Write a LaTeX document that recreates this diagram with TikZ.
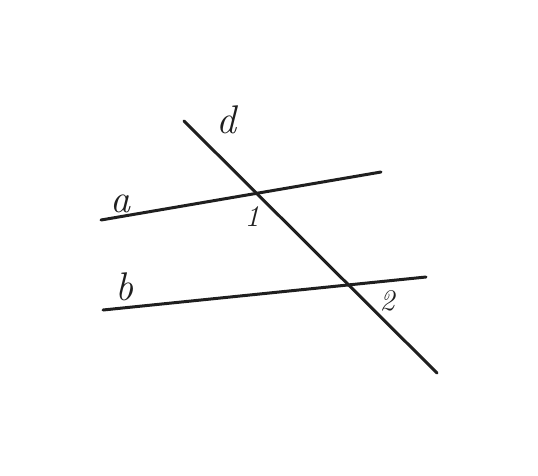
\documentclass[tikz,border=0pt]{standalone}
\begin{document}
\begin{tikzpicture}[x=1pt,y=-1pt,
  ln/.style={line width=3pt,draw=black!88,line cap=round},
  lbl/.style={font=\fontsize{40}{40}\selectfont\itshape,text=black!88,inner sep=0pt}]
\useasboundingbox (0,0) rectangle (538,475);
\coordinate (a1) at (101,220);
\coordinate (a2) at (381,172);
\coordinate (b1) at (103,310);
\coordinate (b2) at (426,277);
\coordinate (d1) at (184,121);
\coordinate (d2) at (437,373);
\draw[ln] (a1) -- (a2);
\draw[ln] (b1) -- (b2);
\draw[ln] (d1) -- (d2);
\node[lbl] (la) at (120,204) {a};
\node[lbl] (lb) at (124,287) {b};
\node[lbl] (ld) at (226,120) {d};
\node[lbl,font=\fontsize{30}{30}\selectfont\itshape] (l1) at (252,217) {1};
\node[lbl,font=\fontsize{30}{30}\selectfont\itshape] (l2) at (387,301) {2};
\end{tikzpicture}
\end{document}
